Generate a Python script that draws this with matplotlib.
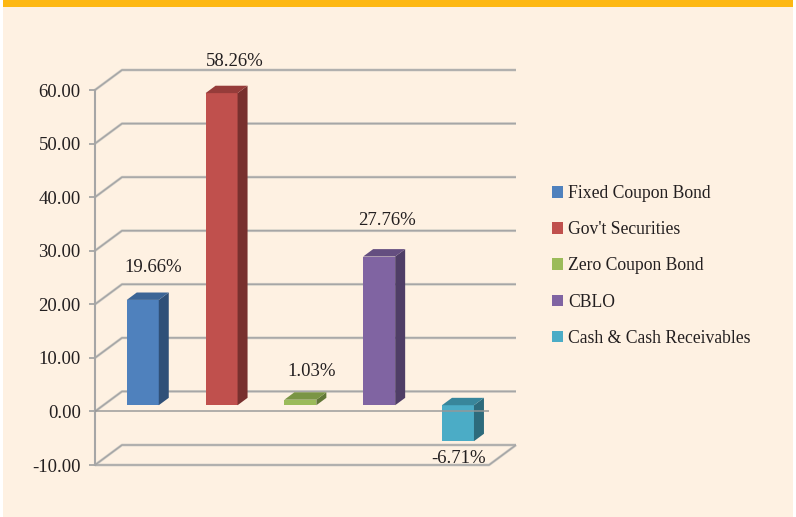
import matplotlib
matplotlib.use('Agg')
import matplotlib.pyplot as plt
from matplotlib.patches import Patch, Polygon, Rectangle

categories = ['Fixed Coupon Bond', "Gov't Securities", 'Zero Coupon Bond', 'CBLO', 'Cash & Cash Receivables']
values = [19.66, 58.26, 1.03, 27.76, -6.71]
value_labels = ['19.66%', '58.26%', '1.03%', '27.76%', '-6.71%']
y_ticks = [-10, 0, 10, 20, 30, 40, 50, 60]

front_colors = ['#4f81bd', '#c0504d', '#9bbb59', '#8064a2', '#4bacc6']
top_colors = ['#3c6596', '#963c3a', '#7a9545', '#644e80', '#38869b']
side_colors = ['#2f5078', '#78302e', '#617737', '#4f3e66', '#2d6b7c']
label_dx = [0, 3, 1.5, -2, 1]
label_dy = [25, 24, 21, 29, -17]

W, H = 796, 517
plt.rcParams['font.family'] = ['Liberation Serif', 'DejaVu Serif']
fig = plt.figure(figsize=(W / 100, H / 100), dpi=100, facecolor='white')

# background panel and orange strip
fig.add_artist(Rectangle((3 / W, 0), 790 / W, 1, transform=fig.transFigure, color='#fef1e2', lw=0, zorder=-2))
fig.add_artist(Rectangle((3 / W, 1 - 7 / H), 790 / W, 7 / H, transform=fig.transFigure, color='#fdb813', lw=0, zorder=-1))

ax = fig.add_axes([95 / W, (H - 465) / H, 394 / W, 375 / H])
ax.patch.set_alpha(0)
ax.set_xlim(-0.5, 4.5)
ax.set_ylim(-10, 60)

px_x = 394 / 5
px_y = 375 / 70
depth_x = 27 / px_x
depth_y = 20 / px_y


def proj(x, y, d):
    return (x + d * depth_x, y + d * depth_y)


def gray_line(xs, ys, z=1):
    ax.plot(xs, ys, color='#d6d2ca', lw=2.0, clip_on=False, zorder=z, solid_capstyle='butt')
    ax.plot(xs, ys, color='#a6a6a6', lw=1.1, clip_on=False, zorder=z + 0.1, solid_capstyle='butt')


# back wall lines and left wall diagonals
for t in y_ticks:
    a = proj(-0.5, t, 0)
    b = proj(-0.5, t, 1)
    c = proj(4.5, t, 1)
    gray_line([a[0], b[0], c[0]], [a[1], b[1], c[1]])

# floor edges
a = proj(-0.5, -10, 0)
b = proj(4.5, -10, 0)
c = proj(4.5, -10, 1)
gray_line([a[0], b[0], c[0]], [a[1], b[1], c[1]])

# bars
half = 16 / px_x
d0 = 0.31
d1 = 0.68
for i, v in enumerate(values):
    lo, hi = min(v, 0), max(v, 0)
    ax.add_patch(Polygon([proj(i - half, lo, d0), proj(i + half, lo, d0), proj(i + half, hi, d0), proj(i - half, hi, d0)],
                         closed=True, fc=front_colors[i], ec='none', clip_on=False, zorder=4))
    ax.add_patch(Polygon([proj(i + half, lo, d0), proj(i + half, lo, d1), proj(i + half, hi, d1), proj(i + half, hi, d0)],
                         closed=True, fc=side_colors[i], ec='none', clip_on=False, zorder=4))
    ax.add_patch(Polygon([proj(i - half, hi, d0), proj(i + half, hi, d0), proj(i + half, hi, d1), proj(i - half, hi, d1)],
                         closed=True, fc=top_colors[i], ec='none', clip_on=False, zorder=4))
    tx, ty = proj(i, v, d1 if v > 0 else d0)
    ax.annotate(value_labels[i], (tx, ty), xytext=(label_dx[i] * 0.72, label_dy[i] * 0.72), textcoords='offset points',
                ha='center', va='center', fontsize=13.5, color='#231f20', zorder=6, annotation_clip=False)

# front line at zero runs over the bars
ax.plot([-0.5, 4.5], [0, 0], color='#969696', lw=1.3, alpha=0.8, clip_on=False, zorder=5, solid_capstyle='butt')

for s in ['top', 'right', 'bottom']:
    ax.spines[s].set_visible(False)
ax.spines['left'].set_color('#a6a6a6')
ax.spines['left'].set_linewidth(1.5)
ax.set_xticks([])
ax.set_yticks(y_ticks)
ax.set_yticklabels(['%.2f' % t for t in y_ticks], fontsize=13.5, color='#231f20')
ax.tick_params(axis='y', length=4.3, width=1.3, color='#a6a6a6', pad=6)

handles = [Patch(fc=c, ec='none', label=n) for c, n in zip(front_colors, categories)]
fig.legend(handles=handles, loc='center left', bbox_to_anchor=(552 / W, (H - 266) / H), frameon=False,
           fontsize=12.7, labelspacing=1.08, handlelength=0.64, handleheight=0.64, handletextpad=0.28,
           labelcolor='#231f20', borderpad=0, borderaxespad=0)

fig.savefig('out.png', dpi=100)
